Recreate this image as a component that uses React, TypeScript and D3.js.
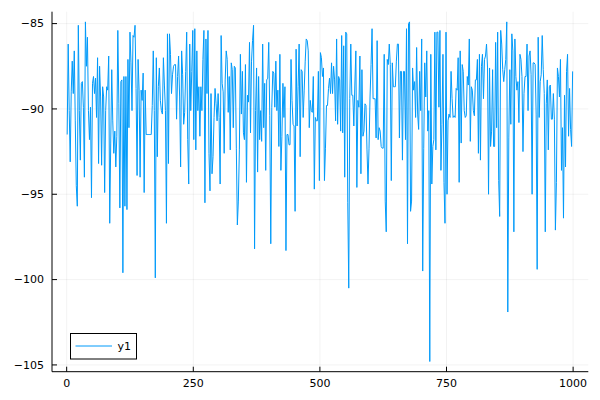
import React, { useEffect, useRef } from 'react';
import * as d3 from 'd3';

// series "y1", one value per sample (samples 1, 3, 5, ... 999)
const y1Part1 = [
	-91.5, -86.2, -90.1, -93.1, -89.0, -87.2, -89.1, -86.6, -90.7, -94.5,
	-95.7, -85.1, -90.1, -93.0, -88.5, -88.4, -89.9, -94.0, -84.9, -87.5,
	-85.8, -90.1, -91.8, -89.9, -95.2, -88.5, -88.1, -89.1, -88.2, -90.5,
	-87.0, -93.2, -87.5, -89.3, -93.3, -88.7, -89.3, -94.9, -90.1, -88.7,
	-88.9, -86.9, -96.7, -92.0, -87.7, -90.7, -92.6, -91.3, -93.4, -91.6,
	-85.4, -89.7, -95.8, -88.4, -88.3, -99.6, -88.1, -95.7, -88.1, -95.9,
	-87.1, -91.1, -85.5, -87.3, -90.1, -85.7, -85.8, -85.1, -88.8, -93.9,
	-87.1, -88.9, -94.0, -88.9, -89.5, -87.9, -94.9, -88.9, -91.5, -91.5,
];
const y1Part2 = [
	-91.5, -91.5, -91.5, -91.5, -89.8, -86.6, -90.1, -99.9, -87.0, -92.8,
	-88.7, -87.6, -89.5, -90.1, -90.3, -87.0, -88.6, -90.1, -96.7, -85.6,
	-93.2, -85.6, -86.8, -89.1, -88.0, -87.5, -87.4, -87.4, -90.6, -88.1,
	-86.9, -89.3, -93.4, -86.6, -88.0, -90.9, -90.2, -87.8, -85.5, -91.8,
	-94.4, -86.2, -90.1, -87.8, -85.4, -91.8, -85.3, -92.4, -86.6, -90.1,
	-88.7, -91.6, -88.7, -90.1, -87.1, -85.4, -95.5, -85.9, -89.1, -85.4,
	-92.6, -94.8, -89.1, -93.8, -92.8, -90.5, -88.8, -89.7, -90.7, -89.1,
	-90.5, -94.4, -85.7, -88.5, -89.0, -92.6, -88.3, -86.6, -87.1, -90.2,
	-88.1,
];
const y1Part3 = [
	-92.4, -87.3, -87.7, -91.1, -87.5, -87.6, -92.3, -96.8, -95.4, -92.4,
	-86.8, -90.3, -87.8, -91.4, -91.8, -87.4, -94.3, -89.2, -89.6, -86.1,
	-91.4, -87.2, -86.0, -85.1, -98.2, -90.1, -87.6, -93.7, -88.1, -91.8,
	-90.1, -91.9, -86.2, -91.1, -88.5, -93.6, -88.3, -88.2, -86.1, -90.4,
	-97.9, -89.9, -87.8, -87.9, -89.9, -87.2, -90.1, -88.9, -92.2, -86.8,
	-93.6, -91.6, -88.5, -90.5, -88.7, -98.3, -91.5, -91.5, -92.1, -92.1,
	-87.1, -89.5, -90.9, -91.0, -96.0, -86.5, -91.0, -88.7, -86.2, -92.8,
	-87.7, -87.8, -90.5, -88.9, -87.2, -85.9, -86.0, -86.6, -91.1, -89.5,
	-90.1, -90.2, -88.1, -94.7, -90.5, -90.7, -90.7, -87.8, -94.2,
];
const y1Part4 = [
	-86.7, -87.0, -88.1, -87.6, -94.2, -92.3, -89.8, -89.8, -88.8, -88.2,
	-89.1, -87.3, -89.1, -87.5, -88.3, -90.7, -85.9, -90.9, -88.1, -88.3,
	-91.3, -85.7, -91.4, -86.3, -94.0, -85.5, -85.6, -95.5, -100.5, -89.4,
	-86.2, -89.2, -89.2, -91.0, -88.6, -86.6, -94.6, -89.5, -89.9, -86.9,
	-93.8, -87.7, -91.6, -91.3, -89.7, -89.8, -92.4, -94.4, -92.3, -89.3,
	-87.4, -85.3, -89.4, -89.4, -89.4, -91.7, -86.0, -91.8, -91.1, -91.3,
	-92.2, -92.3, -92.3, -86.8, -95.4, -97.2, -87.1, -87.4, -86.2, -87.4,
	-94.2, -87.3, -88.7, -88.7, -88.7, -87.2, -86.2, -86.2, -91.7, -87.8,
	-87.8, -93.0, -87.8, -87.8,
];
const y1Part5 = [
	-91.8, -85.3, -97.9, -85.0, -84.9, -96.0, -95.4, -87.6, -88.9, -88.4,
	-90.5, -86.4, -90.3, -91.2, -87.8, -90.1, -85.9, -99.5, -92.3, -87.3,
	-89.3, -86.6, -91.3, -90.1, -104.8, -86.8, -94.4, -92.2, -91.8, -85.5,
	-92.4, -85.5, -85.5, -89.9, -85.4, -93.6, -90.9, -86.8, -94.3, -96.7,
	-85.5, -95.0, -90.7, -90.3, -90.5, -87.8, -89.4, -90.5, -90.4, -90.5,
	-88.8, -88.9, -87.0, -94.3, -86.6, -92.0, -87.4, -87.8, -90.1, -90.5,
	-90.4, -88.1, -88.6, -85.9, -91.9, -88.7, -88.9, -90.1, -90.4, -88.3,
	-88.3, -87.1, -92.6, -86.8, -93.0, -87.5, -86.8, -89.4, -87.1, -86.9,
	-86.2, -87.6, -95.0, -87.6,
];
const y1Part6 = [
	-92.2, -91.3, -87.7, -92.2, -92.2, -86.1, -91.1, -85.5, -94.2, -96.3,
	-85.4, -86.2, -87.7, -88.4, -87.7, -87.1, -84.9, -101.9, -91.7, -87.7,
	-90.9, -85.6, -86.6, -97.2, -85.9, -88.1, -88.9, -88.4, -90.8, -86.8,
	-87.1, -88.1, -92.5, -89.1, -88.1, -88.1, -86.2, -90.1, -86.9, -86.6,
	-88.0, -95.0, -87.3, -87.3, -87.4, -90.3, -99.4, -85.8, -90.5, -88.4,
	-88.0, -85.7, -87.7, -89.1, -97.2, -89.7, -88.3, -92.4, -88.7, -88.6,
	-90.6, -90.6, -89.1, -90.6, -97.1, -94.3, -87.6, -88.1, -89.3, -87.1,
	-93.6, -91.1, -96.4, -89.2, -93.4, -87.8, -86.8, -91.6, -88.8, -91.2,
	-92.2, -87.8,
];

const y1 = [...y1Part1, ...y1Part2, ...y1Part3, ...y1Part4, ...y1Part5, ...y1Part6];
const firstSample = 1;
const sampleStep = 2;
const sampleRange = [1, 1000];

const xTicks = [0, 250, 500, 750, 1000];
const yTicks = [-105, -100, -95, -90, -85];
const seriesLabel = 'y1';

const fmt = (v: number) => (v < 0 ? '\u2212' + Math.abs(v) : String(v));

const LinePlot: React.FC = () => {
	const svgRef = useRef<SVGSVGElement>(null);

	useEffect(() => {
		if (!svgRef.current) return;

		const width = 600;
		const height = 400;
		const left = 52, right = 588.3, top = 11.7, bottom = 371.7;
		const font = '"DejaVu Sans", sans-serif';
		const color = '#009AFA';

		// Plots.jl style: widen the data range by 3% on each side
		const xPad = (sampleRange[1] - sampleRange[0]) * 0.03;
		const [yMin, yMax] = d3.extent(y1) as [number, number];
		const yPad = (yMax - yMin) * 0.03;

		const xScale = d3.scaleLinear()
			.domain([sampleRange[0] - xPad, sampleRange[1] + xPad])
			.range([left, right]);

		const yScale = d3.scaleLinear()
			.domain([yMin - yPad, yMax + yPad])
			.range([bottom, top]);

		const svg = d3.select(svgRef.current)
			.attr('width', width)
			.attr('height', height);

		svg.selectAll('*').remove();

		svg.append('rect')
			.attr('width', width)
			.attr('height', height)
			.attr('fill', '#fff');

		// grid
		const grid = svg.append('g')
			.attr('stroke', '#000')
			.attr('stroke-opacity', 0.1)
			.attr('stroke-width', 0.5);
		xTicks.forEach(t => {
			grid.append('line')
				.attr('x1', xScale(t)).attr('x2', xScale(t))
				.attr('y1', top).attr('y2', bottom);
		});
		yTicks.forEach(t => {
			grid.append('line')
				.attr('x1', left).attr('x2', right)
				.attr('y1', yScale(t)).attr('y2', yScale(t));
		});

		// the series
		const line = d3.line<number>()
			.x((_, i) => xScale(firstSample + i * sampleStep))
			.y(d => yScale(d));

		svg.append('path')
			.datum(y1)
			.attr('d', line)
			.attr('fill', 'none')
			.attr('stroke', color)
			.attr('stroke-width', 1)
			.attr('stroke-linejoin', 'round');

		// axes
		const axes = svg.append('g').attr('stroke', '#000').attr('stroke-width', 1);
		axes.append('line')
			.attr('x1', left).attr('x2', left)
			.attr('y1', top).attr('y2', bottom);
		axes.append('line')
			.attr('x1', left).attr('x2', right)
			.attr('y1', bottom).attr('y2', bottom);

		xTicks.forEach(t => {
			axes.append('line')
				.attr('x1', xScale(t)).attr('x2', xScale(t))
				.attr('y1', bottom).attr('y2', bottom - 5);
			svg.append('text')
				.attr('x', xScale(t))
				.attr('y', bottom + 15)
				.attr('text-anchor', 'middle')
				.attr('font-family', font)
				.attr('font-size', 11)
				.text(fmt(t));
		});

		yTicks.forEach(t => {
			axes.append('line')
				.attr('x1', left).attr('x2', left + 5)
				.attr('y1', yScale(t)).attr('y2', yScale(t));
			svg.append('text')
				.attr('x', left - 8)
				.attr('y', yScale(t))
				.attr('dy', '0.35em')
				.attr('text-anchor', 'end')
				.attr('font-family', font)
				.attr('font-size', 11)
				.text(fmt(t));
		});

		// legend, bottom left
		const lg = svg.append('g');
		lg.append('rect')
			.attr('x', 70.5).attr('y', 333.5)
			.attr('width', 66).attr('height', 25.5)
			.attr('fill', '#fff')
			.attr('stroke', '#000')
			.attr('stroke-width', 1);
		lg.append('line')
			.attr('x1', 75.5).attr('x2', 112)
			.attr('y1', 346).attr('y2', 346)
			.attr('stroke', color)
			.attr('stroke-width', 1);
		lg.append('text')
			.attr('x', 117.5)
			.attr('y', 346)
			.attr('dy', '0.35em')
			.attr('font-family', font)
			.attr('font-size', 11)
			.text(seriesLabel);
	}, []);

	return <svg ref={svgRef} style={{ position: 'absolute', left: 0, top: 0, display: 'block' }}></svg>;
};

export default function App() {
	return <LinePlot />;
}
